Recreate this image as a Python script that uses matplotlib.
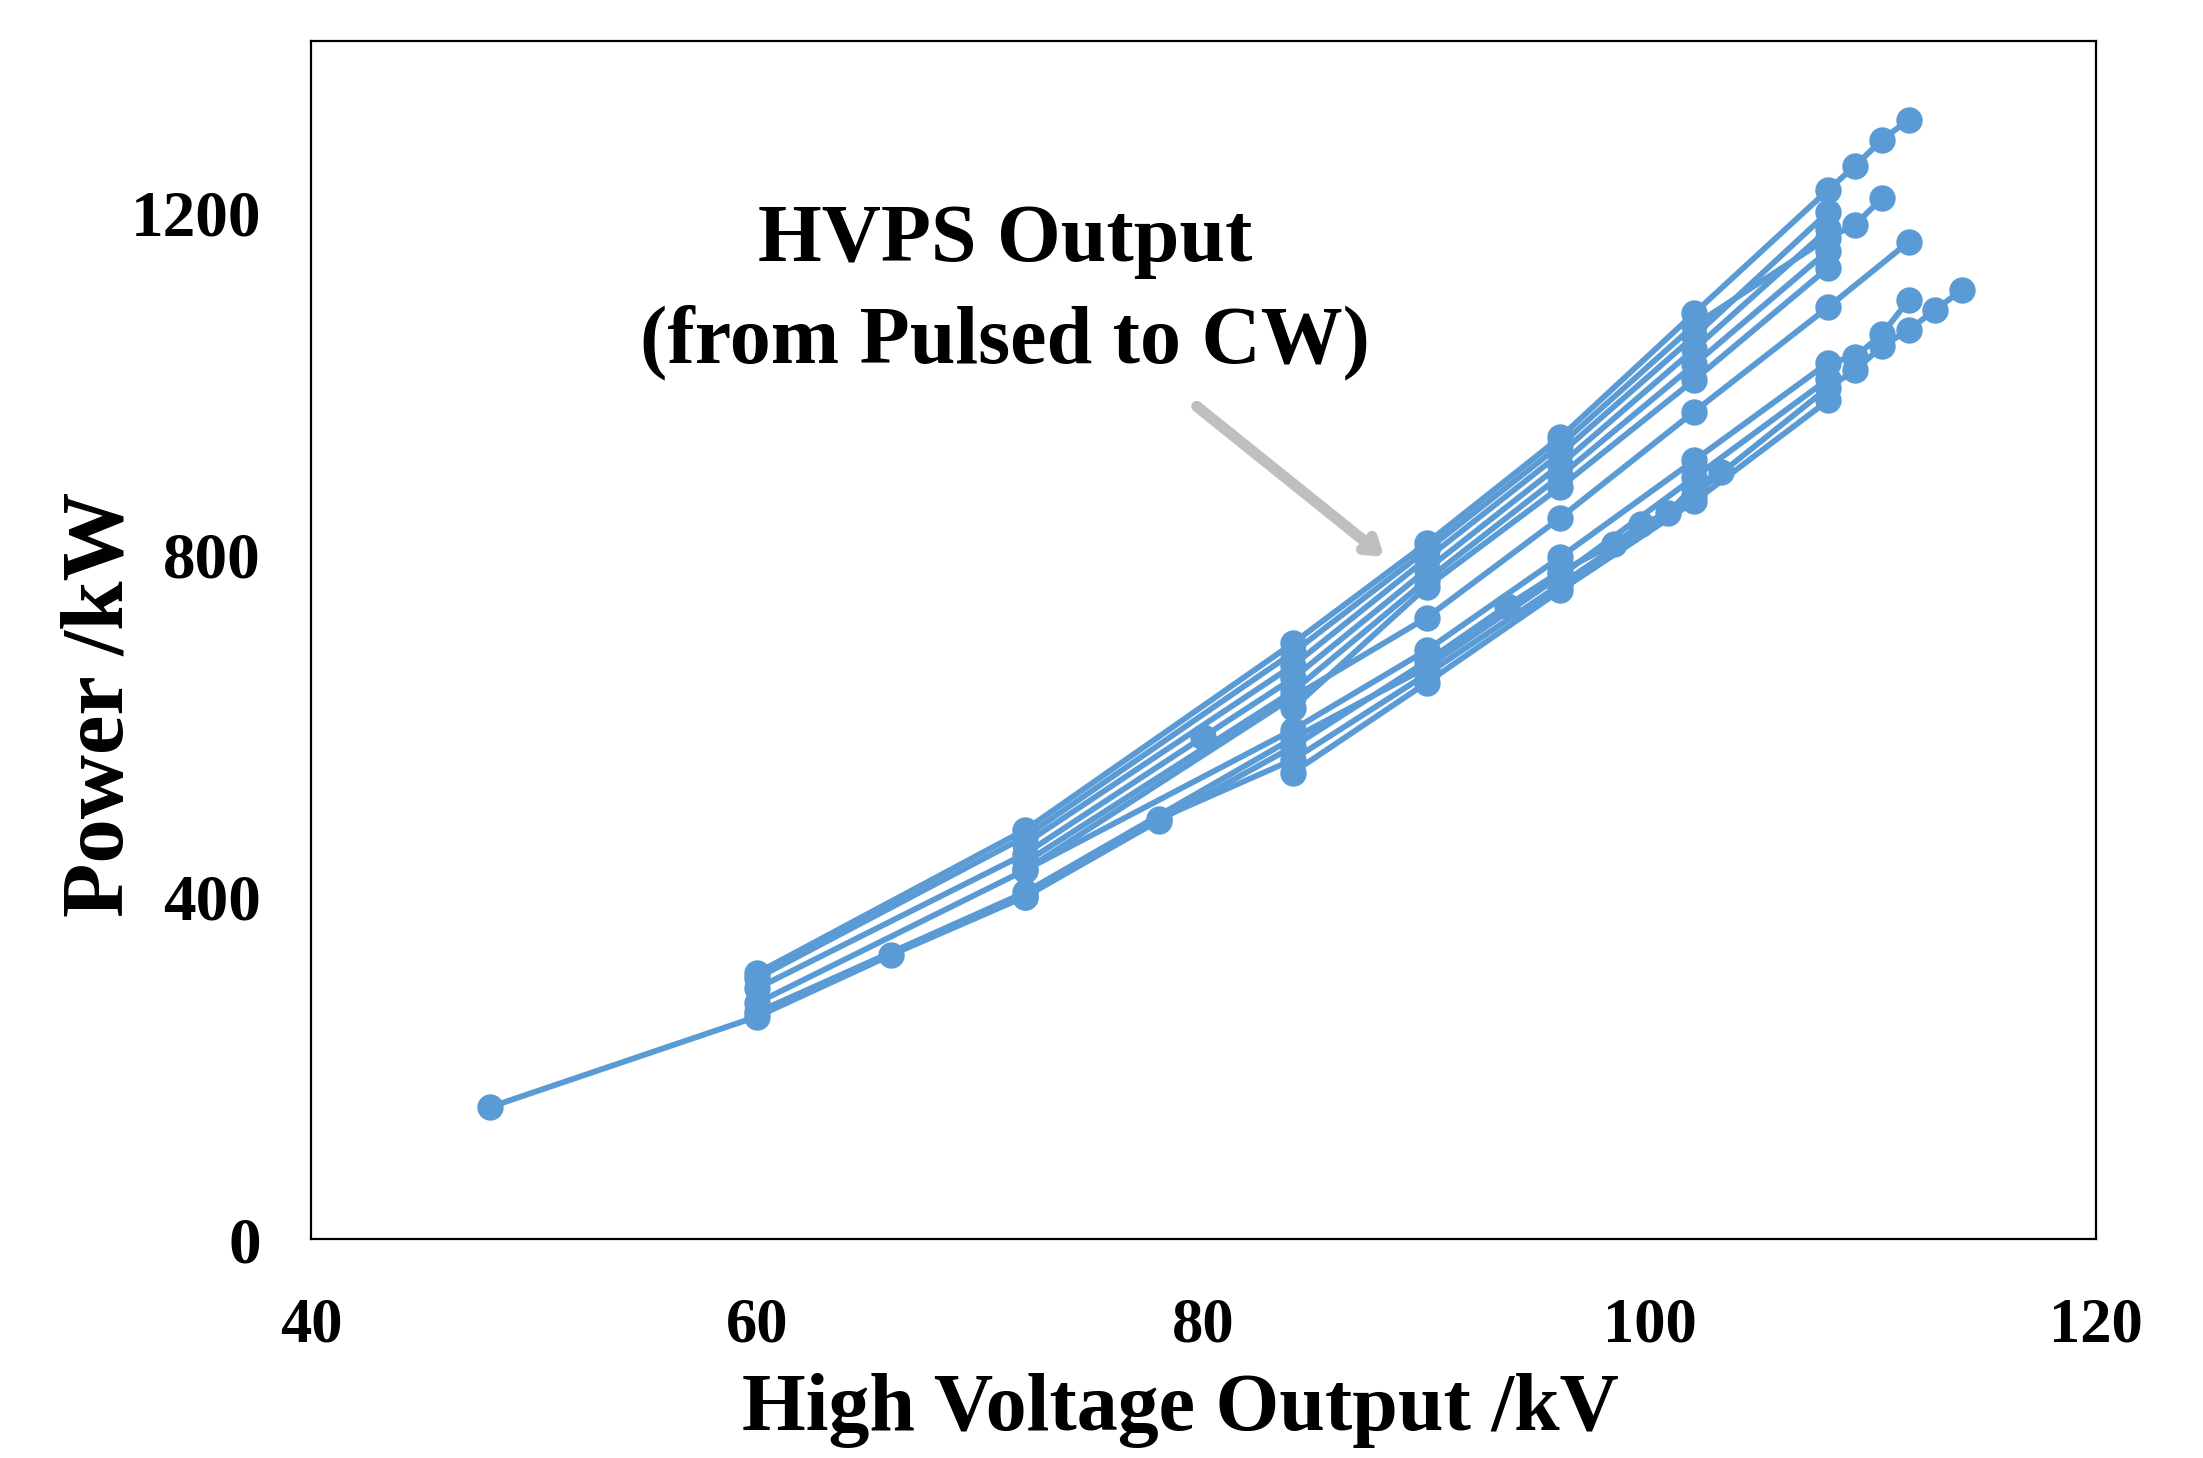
import matplotlib
matplotlib.use('Agg')
import matplotlib.pyplot as plt

plt.rcParams['font.family'] = ['Liberation Serif', 'DejaVu Serif']
plt.rcParams['font.weight'] = 'bold'

#%% HVPS output sweeps, voltage [kV] vs power [kW]
# upper family
u1_kv = [60, 72, 84, 90, 96, 102, 108, 109.2, 110.4, 111.6]
u1_kw = [311, 478, 696, 813, 937, 1082, 1226, 1254, 1284, 1308]
u2_kv = [60, 72, 84, 90, 96, 102, 108, 109.2, 110.4]
u2_kw = [305, 470, 685, 805, 928, 1068, 1170, 1185, 1216]
u3_kv = [72, 84, 90, 96, 102, 108]
u3_kw = [462, 670, 795, 918, 1055, 1200]
u4_kv = [60, 72, 80, 84, 90, 96, 102, 108]
u4_kw = [293, 450, 587, 655, 782, 905, 1040, 1180]
u5_kv = [72, 84, 90, 96, 102, 108]
u5_kw = [440, 640, 770, 892, 1022, 1155]
u6_kv = [84, 90, 96, 102, 108]
u6_kw = [620, 762, 879, 1004, 1135]
# middle
m1_kv = [60, 72, 84, 90, 96, 102, 108, 111.6]
m1_kw = [276, 431, 633, 726, 843, 967, 1089, 1165]
# lower family
l1_kv = [48, 60, 66, 72, 78, 84, 90, 96, 102, 108, 109.2, 110.4, 111.6, 112.8, 114]
l1_kw = [154, 260, 332, 400, 491, 560, 660, 765, 870, 995, 1015, 1043, 1062, 1086, 1109]
l2_kv = [72, 84, 90, 96, 102, 108, 109.2, 110.4, 111.6]
l2_kw = [431, 595, 688, 797, 910, 1024, 1031, 1057, 1097]
l3_kv = [72, 78, 84, 90, 93.6, 96, 98.4, 99.6, 100.8, 102, 103.2]
l3_kw = [400, 489, 575, 675, 740, 780, 812, 835, 848, 880, 896]
l4_kv = [84, 90, 96, 102, 108]
l4_kw = [545, 650, 758, 862, 980]
l5_kv = [60, 72, 84, 90, 96, 102, 108]
l5_kw = [265, 405, 585, 668, 775, 890, 1005]

series = [(u1_kv, u1_kw), (u2_kv, u2_kw), (u3_kv, u3_kw), (u4_kv, u4_kw),
          (u5_kv, u5_kw), (u6_kv, u6_kw), (m1_kv, m1_kw),
          (l1_kv, l1_kw), (l2_kv, l2_kw), (l3_kv, l3_kw), (l4_kv, l4_kw),
          (l5_kv, l5_kw)]

#%%
fig = plt.figure(figsize=(22.03, 14.58), dpi=100)
ax = fig.add_axes([0.1412, 0.1502, 0.8102, 0.8217])

for kv, kw in series:
    ax.plot(kv, kw, color='#5B9BD5', lw=4.2, marker='o', ms=18, solid_capstyle='round')

ax.set_xlim(40, 120)
ax.set_ylim(0, 1400)
ax.set_xticks([40, 60, 80, 100, 120])
ax.set_yticks([0, 400, 800, 1200])
ax.tick_params(axis='x', length=0, pad=42, labelsize=45)
ax.tick_params(axis='y', length=0, pad=36, labelsize=47)
for sp in ax.spines.values():
    sp.set_linewidth(1.6)
    sp.set_color('black')

ax.set_xlabel('High Voltage Output /kV', fontsize=59, fontweight='bold')
ax.xaxis.set_label_coords(0.487, -0.112)
ax.set_ylabel('Power /kW', fontsize=64, fontweight='bold')
ax.yaxis.set_label_coords(-0.095, 0.446)

ax.text(0.389, 0.790, 'HVPS Output\n(from Pulsed to CW)', transform=ax.transAxes,
        ha='center', va='center', fontsize=59, fontweight='bold', linespacing=1.45)
ax.annotate('', xy=(88.2, 795), xytext=(79.6, 975),
            arrowprops=dict(arrowstyle='->,head_length=0.9,head_width=0.6',
                            color='#BFBFBF', lw=8, capstyle='round',
                            joinstyle='round'))

fig.savefig('out.png', dpi=100)
